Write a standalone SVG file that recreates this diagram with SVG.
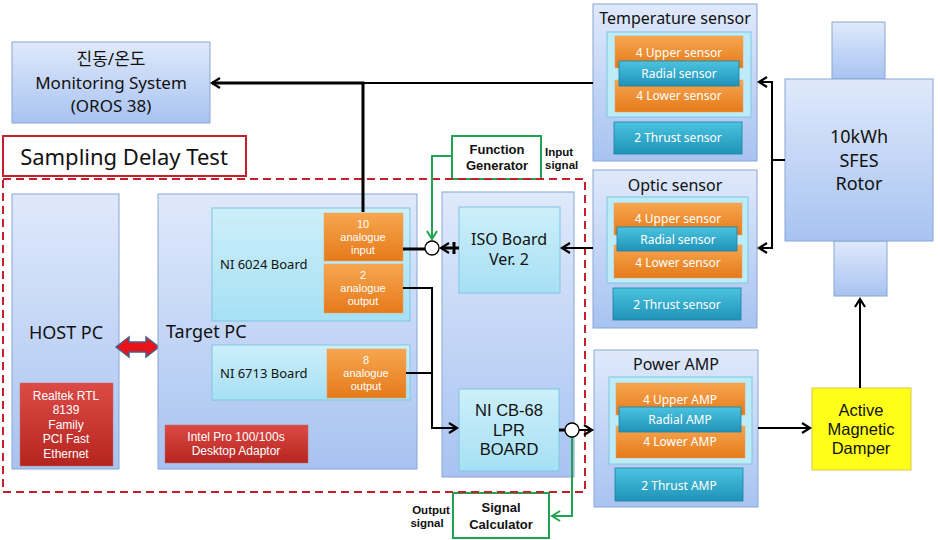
<svg xmlns="http://www.w3.org/2000/svg" width="940" height="540" viewBox="0 0 940 540">
<defs>
<linearGradient id="gBlue" x1="0" y1="0" x2="0" y2="1"><stop offset="0" stop-color="#dfe9fb"/><stop offset="1" stop-color="#a8c3f1"/></linearGradient>
<linearGradient id="gCyan" x1="0" y1="0" x2="0" y2="1"><stop offset="0" stop-color="#cdeffa"/><stop offset="1" stop-color="#a6e0f4"/></linearGradient>
<linearGradient id="gOrange" x1="0" y1="0" x2="0" y2="1"><stop offset="0" stop-color="#f7a650"/><stop offset="1" stop-color="#e57a1a"/></linearGradient>
<linearGradient id="gTeal" x1="0" y1="0" x2="0" y2="1"><stop offset="0" stop-color="#4cc3e0"/><stop offset="1" stop-color="#1f93b8"/></linearGradient>
<linearGradient id="gRed" x1="0" y1="0" x2="0" y2="1"><stop offset="0" stop-color="#dc4a45"/><stop offset="1" stop-color="#b52520"/></linearGradient>
<marker id="ab" markerUnits="userSpaceOnUse" markerWidth="14" markerHeight="14" refX="10" refY="6" orient="auto"><path d="M2,1 L10,6 L2,11" fill="none" stroke="#000" stroke-width="2.2"/></marker>
<marker id="ag" markerUnits="userSpaceOnUse" markerWidth="14" markerHeight="14" refX="10" refY="6" orient="auto"><path d="M2,1 L10,6 L2,11" fill="none" stroke="#22a352" stroke-width="2"/></marker>
<style>
.box{fill:url(#gBlue);stroke:#8aa6d2;stroke-width:1}
.cyan{fill:url(#gCyan);stroke:#7fc6e0;stroke-width:1}
.inner{fill:#bdebf8;stroke:#7fc6e0;stroke-width:1}
.org{fill:url(#gOrange);stroke:#e8a060;stroke-width:0.5}
.teal{fill:url(#gTeal);stroke:#1b7fa0;stroke-width:0.8}
.red{fill:url(#gRed);stroke:#c46a66;stroke-width:0.5}
.green{fill:#fff;stroke:#22a352;stroke-width:2}
text{font-family:"Noto Sans","Noto Sans CJK KR",sans-serif;text-anchor:middle;fill:#111}
.t20{font-size:18px}
.t17{font-size:16px}
.t16{font-size:16.5px;font-family:"Liberation Sans",sans-serif}
.t13{font-size:13px}
.w{fill:#fff;font-size:12px}
.ws{fill:#fff;font-size:12px;font-family:"Liberation Sans",sans-serif}
.wb{fill:#fff;font-size:11px;font-family:"Liberation Sans",sans-serif}
.b{font-weight:bold;font-size:13px;font-family:"Liberation Sans",sans-serif}
.bs{font-weight:bold;font-size:11.5px;font-family:"Liberation Sans",sans-serif}
.c{fill:none;stroke:#000;stroke-width:2}
.ck{fill:none;stroke:#000;stroke-width:3}
.cg{fill:none;stroke:#22a352;stroke-width:2}
</style>
</defs>
<rect width="940" height="540" fill="#fff"/>

<g id="sampling-title">
<rect x="3" y="136" width="243" height="40" fill="#fff" stroke="#c41f2b" stroke-width="2"/>
<text x="124" y="165" style="font-size:22px">Sampling Delay Test</text>
</g>

<g id="monitoring">
<rect class="box" x="12" y="42" width="198" height="81"/>
<text x="111" y="65" style="font-size:17px">진동/온도</text>
<text x="111" y="89" style="font-size:17px">Monitoring System</text>
<text x="111" y="112" style="font-size:17px">(OROS 38)</text>
</g>

<g id="host-pc">
<rect class="box" x="12" y="194" width="107" height="275"/>
<text class="t20" x="66" y="339">HOST PC</text>
<rect class="red" x="20" y="383" width="93" height="83"/>
<text class="ws" x="66" y="400">Realtek  RTL</text>
<text class="ws" x="66" y="414">8139</text>
<text class="ws" x="66" y="429">Family</text>
<text class="ws" x="66" y="443">PCI Fast</text>
<text class="ws" x="66" y="458">Ethernet</text>
</g>

<g id="link-arrow">
<path d="M116,347 L129,337 V342 H146 V337 L159,347 L146,357 V352 H129 V357 Z" fill="#e8141a" stroke="#4a5f8a" stroke-width="1.5"/>
</g>

<g id="target-pc">
<rect class="box" x="158" y="194" width="259" height="275"/>
<text class="t20" x="166" y="338" style="text-anchor:start">Target PC</text>
<rect class="red" x="165" y="425" width="143" height="38"/>
<text class="ws" x="236" y="441">Intel Pro 100/100s</text>
<text class="ws" x="236" y="455">Desktop Adaptor</text>
</g>

<g id="ni6024">
<rect class="cyan" x="212" y="208" width="198" height="113"/>
<text class="t13" x="220" y="269" style="text-anchor:start">NI 6024  Board</text>
<rect class="org" x="324" y="213" width="79" height="48"/>
<text class="wb" x="363" y="228">10</text>
<text class="wb" x="363" y="241">analogue</text>
<text class="wb" x="363" y="254">input</text>
<rect class="org" x="324" y="264" width="79" height="49"/>
<text class="wb" x="363" y="279">2</text>
<text class="wb" x="363" y="292">analogue</text>
<text class="wb" x="363" y="305">output</text>
</g>

<g id="ni6713">
<rect class="cyan" x="212" y="345" width="198" height="55"/>
<text class="t13" x="220" y="378" style="text-anchor:start">NI 6713  Board</text>
<rect class="org" x="327" y="349" width="79" height="49"/>
<text class="wb" x="366" y="364">8</text>
<text class="wb" x="366" y="377">analogue</text>
<text class="wb" x="366" y="390">output</text>
</g>

<g id="interface">
<rect class="box" x="442" y="192" width="132" height="285"/>
</g>

<g id="iso-board">
<rect class="cyan" x="459" y="207" width="101" height="86"/>
<text class="t17" x="509" y="245">ISO Board</text>
<text class="t17" x="509" y="265">Ver. 2</text>
</g>

<g id="cb68">
<rect class="cyan" x="459" y="389" width="100" height="82"/>
<text class="t16" x="509" y="416">NI CB-68</text>
<text class="t16" x="509" y="436">LPR</text>
<text class="t16" x="509" y="455">BOARD</text>
</g>

<g id="function-generator">
<rect class="green" x="452" y="136" width="89" height="43"/>
<text class="b" x="497" y="154">Function</text>
<text class="b" x="497" y="170">Generator</text>
<text class="bs" x="545" y="156" style="text-anchor:start">Input</text>
<text class="bs" x="545" y="169" style="text-anchor:start">signal</text>
</g>

<g id="signal-calculator">
<rect class="green" x="453" y="493" width="96" height="45"/>
<text class="b" x="501" y="512">Signal</text>
<text class="b" x="501" y="529">Calculator</text>
<text class="bs" x="431" y="514">Output</text>
<text class="bs" x="427" y="527">signal</text>
</g>

<g id="temperature-sensor">
<rect class="box" x="593" y="4" width="164" height="157"/>
<text class="t17" x="675" y="24">Temperature sensor</text>
<rect class="inner" x="607" y="32" width="144" height="85"/>
<rect class="org" x="615" y="36" width="128" height="32"/>
<rect class="org" x="615" y="80" width="128" height="32"/>
<rect class="teal" x="619" y="61" width="120" height="25"/>
<text class="w" x="679" y="57">4 Upper sensor</text>
<text class="w" x="679" y="78">Radial sensor</text>
<text class="w" x="679" y="100">4 Lower sensor</text>
<rect class="teal" x="614" y="122" width="128" height="32"/>
<text class="w" x="678" y="142">2 Thrust sensor</text>
</g>

<g id="optic-sensor">
<rect class="box" x="593" y="170" width="164" height="158"/>
<text class="t17" x="675" y="191">Optic sensor</text>
<rect class="inner" x="607" y="197" width="141" height="86"/>
<rect class="org" x="614" y="203" width="128" height="32"/>
<rect class="org" x="614" y="245" width="128" height="33"/>
<rect class="teal" x="617" y="227" width="120" height="24"/>
<text class="w" x="678" y="223">4 Upper sensor</text>
<text class="w" x="678" y="244">Radial sensor</text>
<text class="w" x="678" y="267">4 Lower sensor</text>
<rect class="teal" x="613" y="288" width="128" height="32"/>
<text class="w" x="677" y="309">2 Thrust sensor</text>
</g>

<g id="power-amp">
<rect class="box" x="594" y="350" width="164" height="157"/>
<text class="t17" x="676" y="370">Power AMP</text>
<rect class="inner" x="609" y="377" width="143" height="87"/>
<rect class="org" x="616" y="383" width="129" height="32"/>
<rect class="org" x="616" y="426" width="129" height="32"/>
<rect class="teal" x="619" y="407" width="122" height="25"/>
<text class="w" x="680" y="404">4 Upper AMP</text>
<text class="w" x="680" y="424">Radial AMP</text>
<text class="w" x="680" y="446">4 Lower AMP</text>
<rect class="teal" x="615" y="468" width="128" height="33"/>
<text class="w" x="679" y="490">2 Thrust AMP</text>
</g>

<g id="rotor">
<rect class="box" x="832" y="22" width="53" height="57"/>
<rect class="box" x="834" y="241" width="53" height="55"/>
<rect class="box" x="785" y="79" width="148" height="162"/>
<text class="t20" x="859" y="143">10kWh</text>
<text class="t20" x="859" y="167">SFES</text>
<text class="t20" x="859" y="190">Rotor</text>
</g>

<g id="active-magnetic-damper">
<rect x="812" y="388" width="99" height="82" fill="#ffff1a" stroke="#d8c840" stroke-width="1"/>
<text class="t16" x="861" y="416">Active</text>
<text class="t16" x="861" y="435">Magnetic</text>
<text class="t16" x="861" y="454">Damper</text>
</g>

<g id="dashed-region">
<rect x="3" y="179" width="582" height="313" fill="none" stroke="#c41f2b" stroke-width="2" stroke-dasharray="8,5"/>
</g>

<g id="connectors">
<path class="ck" d="M363,212 V83 H212" marker-end="url(#ab)"/>
<path class="c" d="M363,83 H593"/>
<path class="c" d="M785,160 H772 V82 H759" marker-end="url(#ab)"/>
<path class="c" d="M772,160 V248 H759" marker-end="url(#ab)"/>
<path class="c" d="M593,248 H562" marker-end="url(#ab)"/>
<path class="ck" d="M403,249 H425"/>
<path class="ck" d="M459,248 H441" marker-end="url(#ab)"/>
<path class="ck" d="M454,242 V254"/>
<path class="cg" d="M452,156 H432 V239" marker-end="url(#ag)"/>
<path class="c" d="M403,288 H432 V428 H457" marker-end="url(#ab)"/>
<path class="c" d="M406,373 H432"/>
<path class="ck" d="M559,430 H565"/>
<path class="c" d="M579,430 H592" marker-end="url(#ab)"/>
<path class="cg" d="M572,437 V516 H552" marker-end="url(#ag)"/>
<path class="c" d="M758,428 H810" marker-end="url(#ab)"/>
<path class="c" d="M860,388 V299" marker-end="url(#ab)"/>
<circle cx="432" cy="248" r="7" fill="#fff" stroke="#000" stroke-width="1.3"/>
<circle cx="572" cy="430" r="7" fill="#fff" stroke="#000" stroke-width="1.3"/>
</g>
</svg>
